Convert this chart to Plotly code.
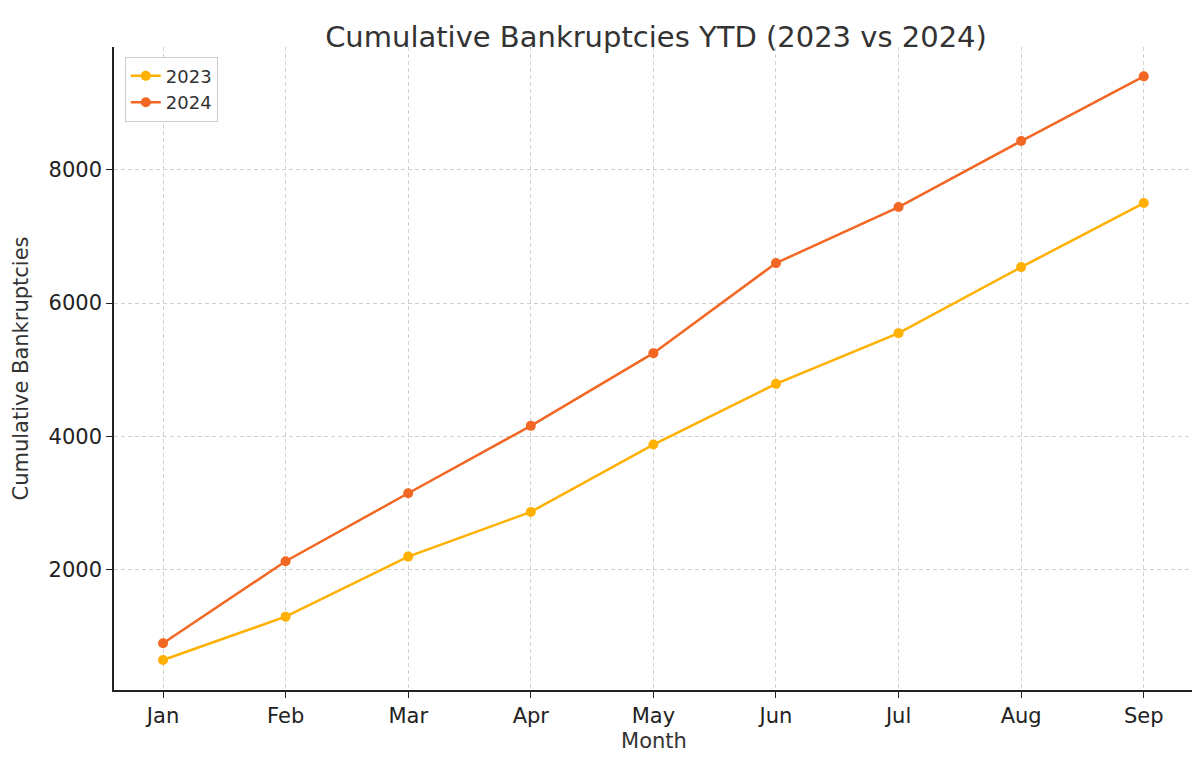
import plotly.graph_objects as go

months = ["Jan", "Feb", "Mar", "Apr", "May", "Jun", "Jul", "Aug", "Sep"]
bk_2023 = [650, 1300, 2200, 2870, 3880, 4790, 5550, 6540, 7500]
bk_2024 = [900, 2130, 3150, 4160, 5250, 6600, 7440, 8430, 9400]

fig = go.Figure()

# one line per year
fig.add_trace(go.Scatter(x=months, y=bk_2023, mode="lines+markers", name="2023",
                         line=dict(color="#FFB000", width=2.5), marker=dict(size=10)))
fig.add_trace(go.Scatter(x=months, y=bk_2024, mode="lines+markers", name="2024",
                         line=dict(color="#F26724", width=2.5), marker=dict(size=10)))

axis_style = dict(showline=True, linecolor="#222", linewidth=1.5, ticks="outside",
                  ticklen=6, tickcolor="#222", showgrid=True, gridcolor="#d0d0d0",
                  griddash="4px,3px", gridwidth=1, zeroline=False,
                  tickfont=dict(size=21, color="#222"))

fig.update_layout(
    width=1200, height=765,
    paper_bgcolor="white", plot_bgcolor="white",
    font=dict(family="DejaVu Sans", color="#333"),
    title=dict(text="Cumulative Bankruptcies YTD (2023 vs 2024)", x=0.54, y=0.975,
               xanchor="center", font=dict(size=29, color="#333")),
    margin=dict(l=103, r=14, t=39, b=83),
    legend=dict(x=0.01, y=0.985, xanchor="left", yanchor="top",
                bordercolor="#ccc", borderwidth=1, bgcolor="white",
                font=dict(size=18)),
    xaxis=dict(axis_style, range=[-0.4, 8.41],
               title=dict(text="Month", font=dict(size=21), standoff=6)),
    yaxis=dict(axis_style, range=[200, 9840], tickvals=[2000, 4000, 6000, 8000],
               title=dict(text="Cumulative Bankruptcies", font=dict(size=21), standoff=14)),
)

fig.write_html("out.html")
